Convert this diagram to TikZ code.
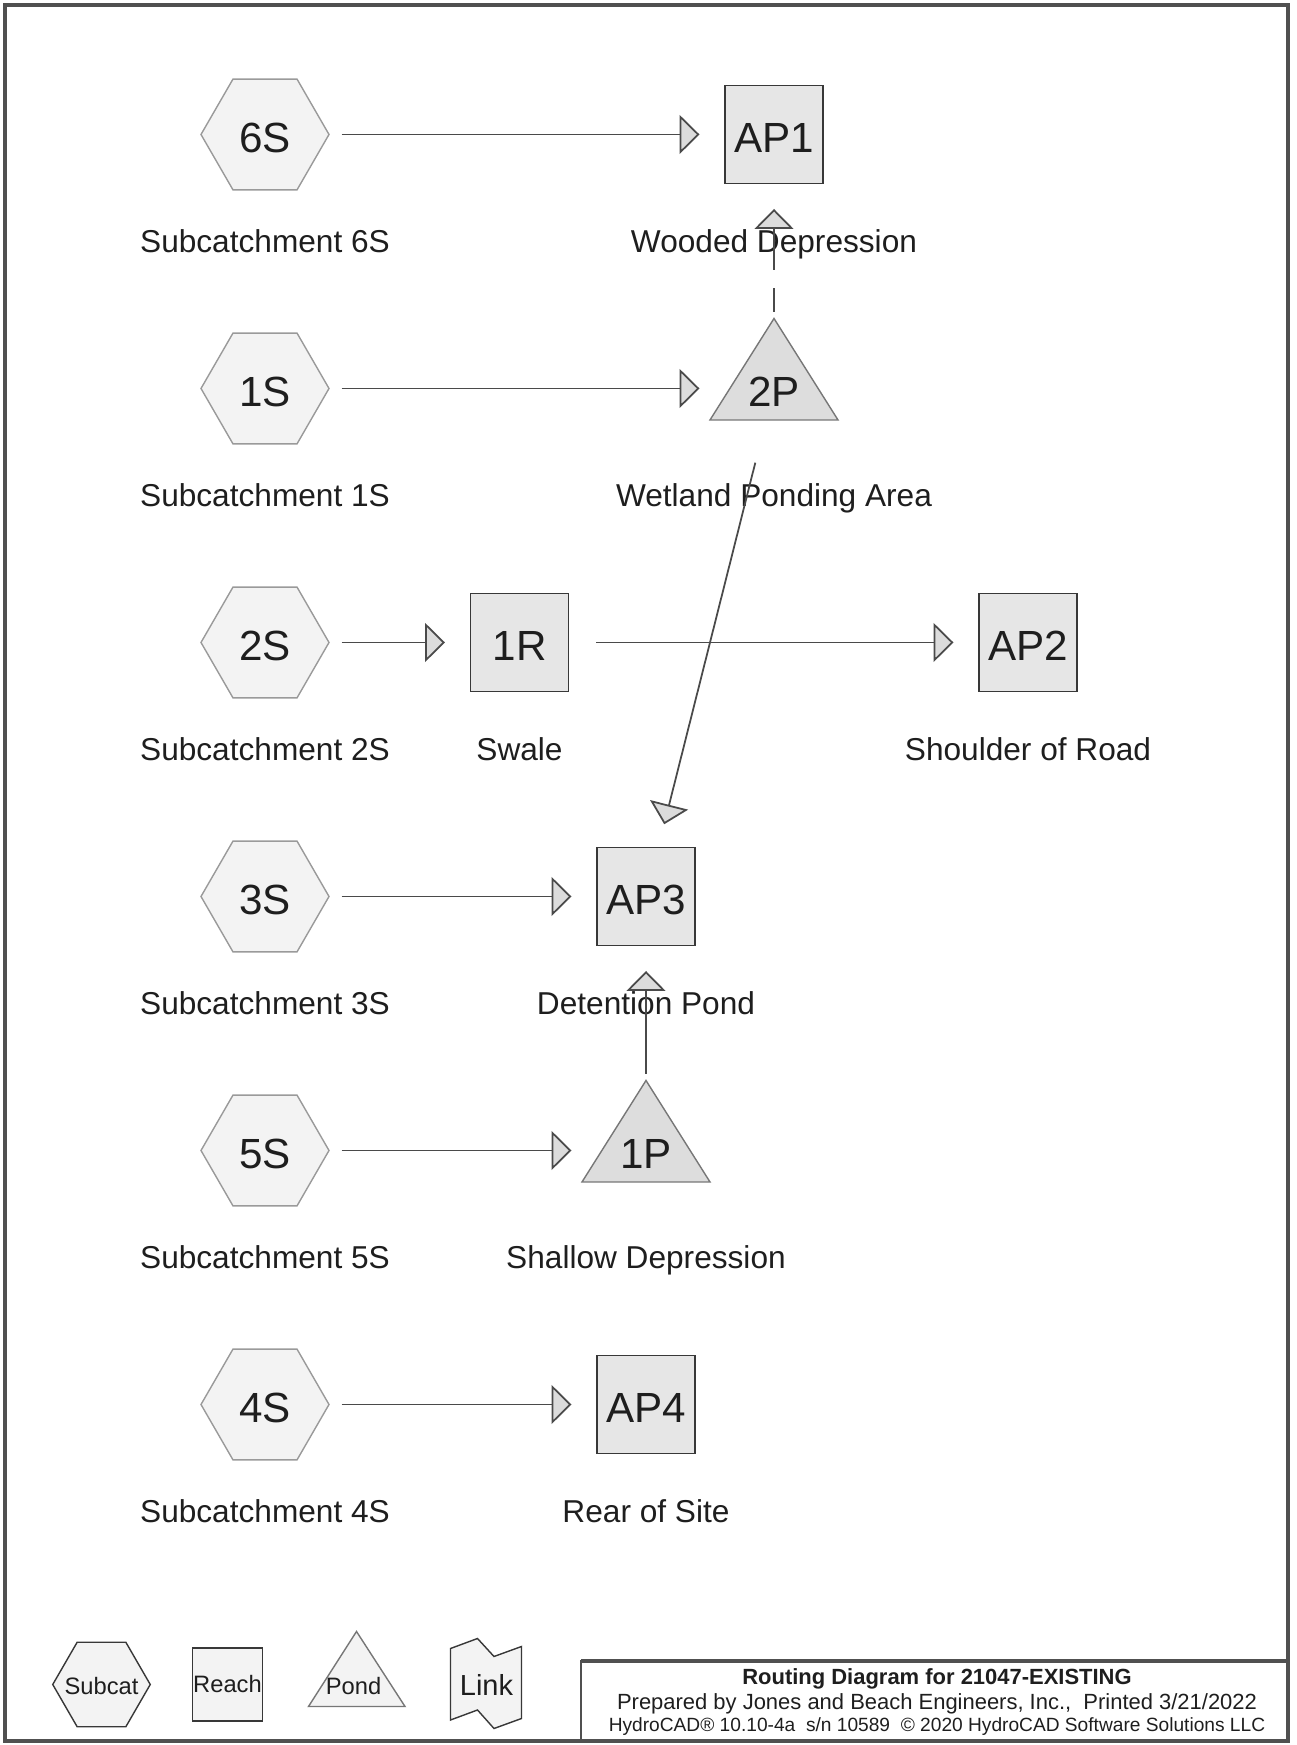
\documentclass[tikz,border=0pt]{standalone}
\usepackage{fontspec}
\setmainfont{Liberation Sans}
\usepackage{tikz}
\usepackage{xcolor}
\usetikzlibrary{arrows.meta,shapes.geometric,positioning}

\definecolor{framegray}{HTML}{505050}
\definecolor{linegray}{HTML}{4A4A4A}
\definecolor{hexline}{HTML}{9A9A9A}
\definecolor{hexfill}{HTML}{F3F3F3}
\definecolor{boxline}{HTML}{383838}
\definecolor{boxfill}{HTML}{E6E6E6}
\definecolor{pondline}{HTML}{777777}
\definecolor{pondfill}{HTML}{DDDDDD}
\definecolor{headfill}{HTML}{DCDCDC}
\definecolor{inkblack}{HTML}{1E1E1E}

\tikzset{
idtext/.style={text=inkblack,font=\fontsize{24}{28}\selectfont,text height=0.74cm,text depth=0pt},
subcat/.style={regular polygon,regular polygon sides=6,minimum size=2.56cm,inner sep=0pt,draw=hexline,fill=hexfill,line width=0.8pt,idtext},
reach/.style={rectangle,minimum size=1.96cm,inner sep=0pt,draw=boxline,fill=boxfill,line width=1pt,idtext},
pondid/.style={inner sep=0pt,idtext},
pondshape/.style={draw=pondline,fill=pondfill,line width=0.8pt},
lbl/.style={anchor=base,text=inkblack,font=\fontsize{18}{22}\selectfont,inner sep=0pt},
flow/.style={draw=linegray,line width=1pt,shorten <=1.53cm,shorten >=1.49cm,-{Triangle[length=0.4cm,width=0.78cm,fill=headfill]}},
legtext/.style={text=inkblack,font=\fontsize{13.5}{16}\selectfont,inner sep=0pt},
legsubcat/.style={regular polygon,regular polygon sides=6,minimum size=1.95cm,inner sep=0pt,draw=boxline,fill=hexfill,line width=0.8pt},
legreach/.style={rectangle,minimum width=1.40cm,minimum height=1.46cm,inner sep=0pt,draw=boxline,fill=hexfill,line width=0.8pt,legtext},
legshape/.style={fill=hexfill,line width=0.8pt},
}

\begin{document}
\begin{tikzpicture}
\useasboundingbox (0,0) rectangle (25.92,34.90);
\draw[framegray,line width=2pt] (0.10,0.08) rectangle (25.76,34.80);

\node[subcat] (sc6) at (5.30,32.21) {6S};
\node[reach] (ap1) at (15.48,32.21) {AP1};
\node[subcat] (sc1) at (5.30,27.13) {1S};
\filldraw[pondshape] (15.48,28.53) -- (16.76,26.50) -- (14.20,26.50) -- cycle;
\node[pondid] (p2) at (15.48,27.13) {2P};
\node[subcat] (sc2) at (5.30,22.05) {2S};
\node[reach] (r1) at (10.39,22.05) {1R};
\node[reach] (ap2) at (20.56,22.05) {AP2};
\node[subcat] (sc3) at (5.30,16.97) {3S};
\node[reach] (ap3) at (12.92,16.97) {AP3};
\node[subcat] (sc5) at (5.30,11.89) {5S};
\filldraw[pondshape] (12.92,13.29) -- (14.20,11.26) -- (11.64,11.26) -- cycle;
\node[pondid] (p1) at (12.92,11.89) {1P};
\node[subcat] (sc4) at (5.30,6.81) {4S};
\node[reach] (ap4) at (12.92,6.81) {AP4};

\node[lbl] (sc6lbl) at (5.30,29.84) {Subcatchment 6S};
\node[lbl] (ap1lbl) at (15.48,29.84) {Wooded Depression};
\node[lbl] (sc1lbl) at (5.30,24.76) {Subcatchment 1S};
\node[lbl] (p2lbl) at (15.48,24.76) {Wetland Ponding Area};
\node[lbl] (sc2lbl) at (5.30,19.68) {Subcatchment 2S};
\node[lbl] (r1lbl) at (10.39,19.68) {Swale};
\node[lbl] (ap2lbl) at (20.56,19.68) {Shoulder of Road};
\node[lbl] (sc3lbl) at (5.30,14.60) {Subcatchment 3S};
\node[lbl] (ap3lbl) at (12.92,14.60) {Detention Pond};
\node[lbl] (sc5lbl) at (5.30,9.52) {Subcatchment 5S};
\node[lbl] (p1lbl) at (12.92,9.52) {Shallow Depression};
\node[lbl] (sc4lbl) at (5.30,4.44) {Subcatchment 4S};
\node[lbl] (ap4lbl) at (12.92,4.44) {Rear of Site};

\draw[flow] (sc6.center) -- (ap1.center);
\draw[flow] (sc1.center) -- (p2.center);
\draw[flow] (sc2.center) -- (r1.center);
\draw[flow] (r1.center) -- (ap2.center);
\draw[flow] (sc3.center) -- (ap3.center);
\draw[flow] (sc5.center) -- (p1.center);
\draw[flow] (sc4.center) -- (ap4.center);
\draw[flow,dash pattern=on 0.48cm off 0.36cm on 3cm off 0cm] (p2.center) -- (ap1.center);
\draw[flow] (p2.center) -- (ap3.center);
\draw[flow] (p1.center) -- (ap3.center);

\node[legsubcat] (legsub) at (2.03,1.21) {};
\node[legtext] (legsubtxt) at (2.03,1.17) {Subcat};
\node[legreach] (legreach) at (4.55,1.21) {Reach};
\filldraw[legshape,draw=pondline] (7.13,2.27) -- (8.10,0.77) -- (6.17,0.77) -- cycle;
\node[legtext] (legpond) at (7.07,1.17) {Pond};
\filldraw[legshape,draw=boxline] (9.01,1.93) -- (9.55,2.13) -- (9.88,1.77) -- (10.43,1.97) -- (10.43,0.53) -- (9.88,0.33) -- (9.55,0.70) -- (9.01,0.50) -- cycle;
\node[legtext,font=\fontsize{16.5}{19}\selectfont] (leglink) at (9.73,1.20) {Link};

\draw[framegray,line width=1.2pt] (11.62,0.08) rectangle (25.76,1.68);
\draw[framegray,line width=2pt] (11.62,1.68) -- (25.76,1.68);
\node[text=inkblack,font=\bfseries\fontsize{12.5}{15}\selectfont] (title1) at (18.74,1.32) {Routing Diagram for 21047-EXISTING};
\node[text=inkblack,font=\fontsize{12.5}{15}\selectfont] (title2) at (18.74,0.83) {Prepared by Jones and Beach Engineers, Inc.,\ \ Printed 3/21/2022};
\node[text=inkblack,font=\fontsize{10.9}{13}\selectfont] (title3) at (18.74,0.37) {HydroCAD® 10.10-4a\ \ s/n 10589\ \ © 2020 HydroCAD Software Solutions LLC};
\end{tikzpicture}
\end{document}
